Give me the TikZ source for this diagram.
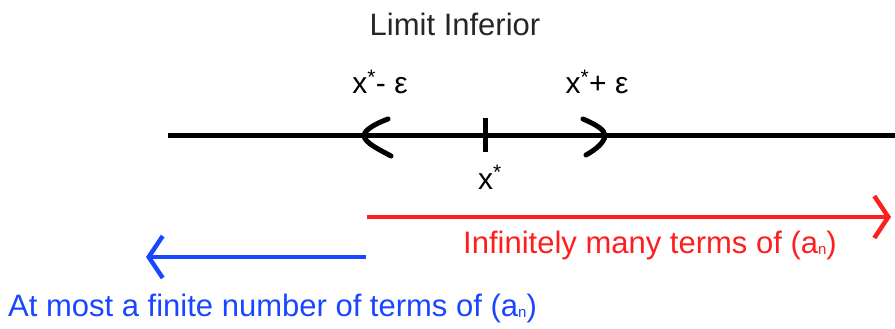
\documentclass[tikz,border=0pt]{standalone}
\usepackage{fontspec}
\setmainfont{Liberation Sans}
\usetikzlibrary{arrows.meta}
\definecolor{limred}{RGB}{255,30,30}
\definecolor{limblue}{RGB}{25,70,255}
\newcommand{\subn}{{\fontsize{15}{15}\selectfont\raisebox{-1pt}{n}}}
\tikzset{
  lbl/.style={font=\fontsize{30}{36}\selectfont, inner sep=0pt, anchor=base},
  big/.style={lbl, font=\fontsize{31}{37}\selectfont},
  axis/.style={line width=5pt},
  brk/.style={line width=5pt, line cap=round},
  ray/.style={line width=4.5pt,
              -{Straight Barb[length=14pt, width=42pt, line width=4.5pt]}},
}

\begin{document}
\begin{tikzpicture}[x=1pt, y=-1pt]
  \useasboundingbox (0,0) rectangle (895,329);
  % title
  \node[big, text=black!85] (title) at (455,36) {Limit Inferior};
  % real line with x* and the epsilon neighbourhood
  \coordinate (axL) at (168,135);
  \coordinate (axR) at (895,135);
  \draw[axis] (axL) -- (axR);
  \coordinate (tickT) at (485,118);
  \coordinate (tickB) at (485,152);
  \draw[axis] (tickT) -- (tickB);
  \draw[brk] (388,119) .. controls (372,125) and (364,131) .. (364,136)
             .. controls (365,143) and (380,150) .. (391,156);
  \draw[brk] (583,119) .. controls (597,125) and (605,130) .. (605,136)
             .. controls (604,143) and (595,150) .. (586,155);
  \node[lbl] (lo) at (380,94) {x\textsuperscript{*}- ε};
  \node[lbl] (hi) at (597,94) {x\textsuperscript{*}+ ε};
  \node[lbl] (xs) at (490,189) {x\textsuperscript{*}};
  % infinitely many terms
  \coordinate (redL) at (367,217);
  \coordinate (redR) at (891,217);
  \draw[ray, limred] (redL) -- (redR);
  \node[big, text=limred] (inf) at (650,253)
    {Infinitely many terms of (a\subn)};
  % finitely many terms
  \coordinate (blueR) at (366,257);
  \coordinate (blueL) at (146,257);
  \draw[ray, limblue] (blueR) -- (blueL);
  \node[big, text=limblue, anchor=base west] (fin) at (8,316)
    {At most a finite number of terms of (a\subn)};
\end{tikzpicture}
\end{document}
